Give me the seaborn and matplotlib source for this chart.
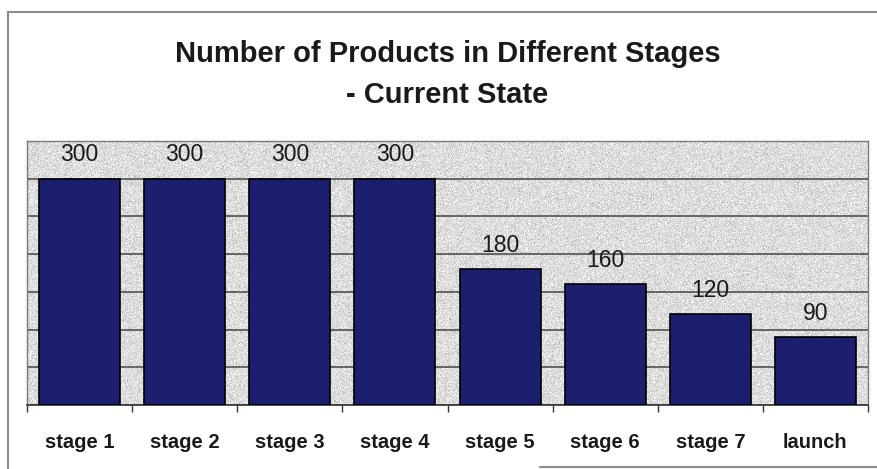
import numpy as np
import pandas as pd
import matplotlib
matplotlib.use("Agg")
import matplotlib.pyplot as plt
from matplotlib.lines import Line2D
from matplotlib.ticker import FixedLocator, MultipleLocator
import seaborn as sns

# Products counted at each stage of the pipeline
stages = ["stage 1", "stage 2", "stage 3", "stage 4",
          "stage 5", "stage 6", "stage 7", "launch"]
products = [300, 300, 300, 300, 180, 160, 120, 90]

title_line1 = "Number of Products in Different Stages"
title_line2 = "- Current State"

df = pd.DataFrame({"stage": stages, "products": products})

sns.set_theme(style="white")
plt.rcParams["font.family"] = ["Liberation Sans", "DejaVu Sans"]

W, H = 877, 469
fig = plt.figure(figsize=(W / 100, H / 100), dpi=100)
fig.patch.set_facecolor("white")

# plot area in pixel units
left, right, top, bottom = 27, 868, 141, 405
ax = fig.add_axes([left / W, 1 - bottom / H, (right - left) / W, (bottom - top) / H])

# grainy light-grey fill of the plot area
rng = np.random.default_rng(7)
grain = 0.865 + 0.06 * rng.standard_normal((264, 841))
grain = np.clip(grain, 0.6, 1.0)
ax.imshow(grain, cmap="gray", vmin=0, vmax=1, aspect="auto",
          extent=(-0.5, 7.5, 0, 350), zorder=0, interpolation="nearest")

ax.set_ylim(0, 350)
ax.yaxis.set_major_locator(MultipleLocator(50))
ax.grid(axis="y", color="#454545", linewidth=1.1, zorder=1)
ax.set_axisbelow(True)

sns.barplot(data=df, x="stage", y="products", color="#1b1f6e",
            saturation=1, width=0.77, edgecolor="black", linewidth=1.2,
            ax=ax, zorder=3)
ax.set_xlim(-0.5, 7.5)
ax.set_ylim(0, 350)

for i, v in enumerate(products):
    ax.annotate(f"{v}", xy=(i, v), xytext=(0, 12.5), textcoords="offset points",
                ha="center", va="baseline", fontsize=16.5, color="#1a1a1a", zorder=4)

ax.set_xlabel("")
ax.set_ylabel("")
ax.set_yticklabels([])
ax.tick_params(axis="y", length=0)
ax.tick_params(axis="x", which="major", length=0, pad=20, labelsize=14.5,
               labelcolor="#1a1a1a")
for lab in ax.get_xticklabels():
    lab.set_fontweight("bold")
ax.xaxis.set_minor_locator(FixedLocator(np.arange(-0.5, 8.0, 1.0)))
ax.tick_params(axis="x", which="minor", length=5, width=1, color="#333333",
               direction="out", bottom=True)

for side in ["left", "right", "top"]:
    ax.spines[side].set_visible(True)
    ax.spines[side].set_color("#7a7a7a")
    ax.spines[side].set_linewidth(1.0)
ax.spines["bottom"].set_color("#333333")
ax.spines["bottom"].set_linewidth(1.2)

# title, two centred lines over the plot area
cx = (left + right) / 2 / W
fig.text(cx, 1 - 62 / H, title_line1, ha="center", va="baseline",
         fontsize=21, fontweight="bold", color="#1a1a1a")
fig.text(cx, 1 - 103 / H, title_line2, ha="center", va="baseline",
         fontsize=21, fontweight="bold", color="#1a1a1a")

# outer chart frame
frame_kw = dict(color="#8c8c8c", linewidth=1.5, transform=fig.transFigure)
fig.add_artist(Line2D([8 / W, 1], [1 - 12 / H, 1 - 12 / H], **frame_kw))
fig.add_artist(Line2D([8 / W, 8 / W], [1 - 12 / H, 0], **frame_kw))
fig.add_artist(Line2D([540 / W, 1], [1 - 467 / H, 1 - 467 / H], **frame_kw))

fig.savefig("out.png", dpi=100, facecolor="white")
